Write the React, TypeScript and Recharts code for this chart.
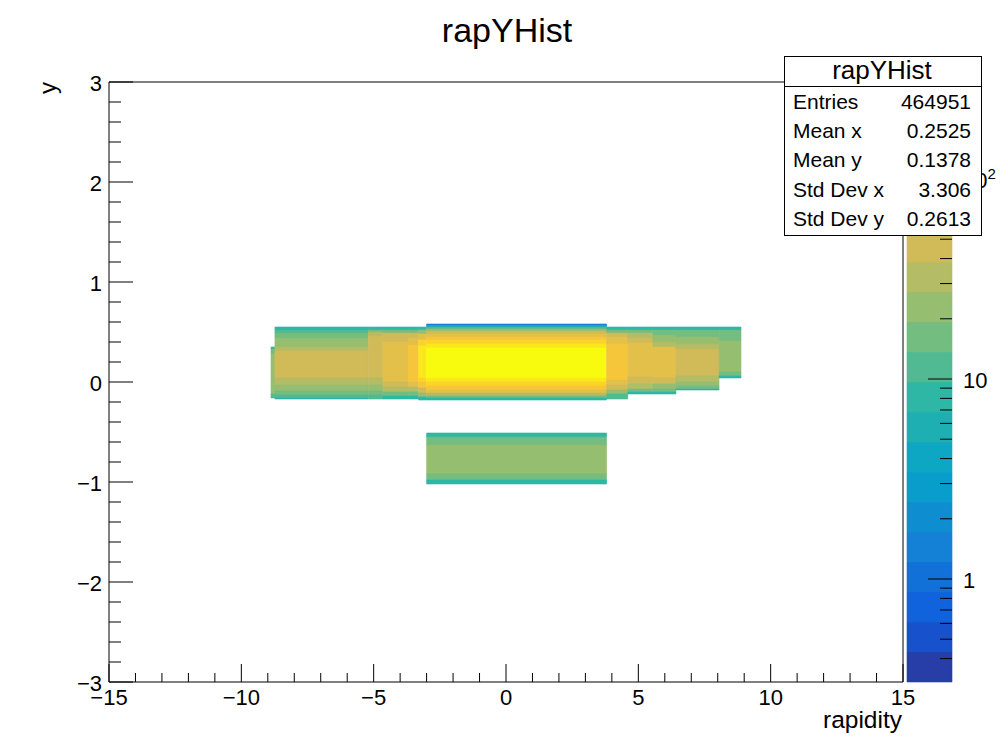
import { ComposedChart, ReferenceArea, Scatter, XAxis, YAxis } from "recharts";

// [yLow, yHigh, entries] rows inside one rapidity slice
type Band = [number, number, number];

interface Slice {
  x0: number;
  x1: number;
  bands: Band[];
}

const xTicks = [
  -15, -14, -13, -12, -11, -10, -9, -8, -7, -6, -5, -4, -3, -2, -1, 0, 1, 2, 3,
  4, 5, 6, 7, 8, 9, 10, 11, 12, 13, 14, 15,
];
const yTicks = [
  -3, -2.8, -2.6, -2.4, -2.2, -2, -1.8, -1.6, -1.4, -1.2, -1, -0.8, -0.6, -0.4,
  -0.2, 0, 0.2, 0.4, 0.6, 0.8, 1, 1.2, 1.4, 1.6, 1.8, 2, 2.2, 2.4, 2.6, 2.8, 3,
];
const zTicks = [
  0.4, 0.5, 0.6, 0.7, 0.8, 0.9, 1, 2, 3, 4, 5, 6, 7, 8, 9, 10, 20, 30, 40, 50,
  60, 70, 80, 90, 100, 200, 300,
];

const leftStrip: Band[] = [
  [0.33, 0.35, 8],
  [0.28, 0.33, 16],
  [-0.12, 0.28, 23],
  [-0.16, -0.12, 11],
];
const leftWide: Band[] = [
  [0.52, 0.55, 8],
  [0.49, 0.52, 11],
  [0.44, 0.49, 16],
  [0.35, 0.44, 23],
  [0.31, 0.35, 32],
  [0.04, 0.31, 46],
  [-0.03, 0.04, 32],
  [-0.09, -0.03, 23],
  [-0.13, -0.09, 16],
  [-0.16, -0.13, 11],
  [-0.17, -0.16, 8],
];
const leftMid: Band[] = [
  [0.52, 0.55, 8],
  [0.5, 0.52, 16],
  [0.46, 0.5, 32],
  [0.04, 0.46, 50],
  [-0.03, 0.04, 32],
  [-0.09, -0.03, 23],
  [-0.13, -0.09, 16],
  [-0.17, -0.13, 10],
];
const leftInner: Band[] = [
  [0.52, 0.55, 8],
  [0.49, 0.52, 16],
  [0.4, 0.49, 46],
  [0.0, 0.4, 65],
  [-0.05, 0.0, 46],
  [-0.1, -0.05, 32],
  [-0.14, -0.1, 16],
  [-0.17, -0.14, 9],
];
const leftEdge: Band[] = [
  [0.52, 0.55, 8],
  [0.49, 0.52, 16],
  [0.44, 0.49, 46],
  [0.37, 0.44, 65],
  [0.0, 0.37, 91],
  [-0.05, 0.0, 65],
  [-0.1, -0.05, 32],
  [-0.14, -0.1, 16],
  [-0.17, -0.14, 9],
];
const leftRim: Band[] = [
  [0.52, 0.55, 8],
  [0.48, 0.52, 23],
  [0.42, 0.48, 65],
  [0.36, 0.42, 130],
  [0.04, 0.36, 200],
  [0.0, 0.04, 130],
  [-0.06, 0.0, 91],
  [-0.11, -0.06, 46],
  [-0.15, -0.11, 20],
  [-0.18, -0.15, 9],
];
const central: Band[] = [
  [0.565, 0.58, 1.4],
  [0.55, 0.565, 4],
  [0.53, 0.55, 11],
  [0.51, 0.53, 23],
  [0.48, 0.51, 46],
  [0.45, 0.48, 65],
  [0.42, 0.45, 91],
  [0.38, 0.42, 130],
  [0.34, 0.38, 180],
  [0.04, 0.34, 260],
  [0.0, 0.04, 180],
  [-0.04, 0.0, 130],
  [-0.08, -0.04, 91],
  [-0.11, -0.08, 65],
  [-0.14, -0.11, 32],
  [-0.16, -0.14, 16],
  [-0.18, -0.16, 8],
];
const lower: Band[] = [
  [-0.55, -0.51, 8],
  [-0.63, -0.55, 16],
  [-0.92, -0.63, 23],
  [-0.98, -0.92, 16],
  [-1.02, -0.98, 9],
];
const rightEdge: Band[] = [
  [0.52, 0.55, 8],
  [0.49, 0.52, 16],
  [0.45, 0.49, 46],
  [0.38, 0.45, 65],
  [0.02, 0.38, 100],
  [-0.03, 0.02, 65],
  [-0.08, -0.03, 46],
  [-0.12, -0.08, 23],
  [-0.17, -0.12, 11],
];
const rightInner: Band[] = [
  [0.52, 0.55, 8],
  [0.49, 0.52, 16],
  [0.44, 0.49, 32],
  [0.39, 0.44, 46],
  [0.05, 0.39, 65],
  [-0.02, 0.05, 46],
  [-0.07, -0.02, 32],
  [-0.1, -0.07, 16],
  [-0.12, -0.1, 9],
];
const rightMid: Band[] = [
  [0.52, 0.55, 8],
  [0.47, 0.52, 16],
  [0.4, 0.47, 23],
  [0.35, 0.4, 32],
  [0.04, 0.35, 55],
  [-0.02, 0.04, 40],
  [-0.07, -0.02, 23],
  [-0.1, -0.07, 14],
  [-0.12, -0.1, 9],
];
const rightWide: Band[] = [
  [0.52, 0.55, 8],
  [0.45, 0.52, 16],
  [0.38, 0.45, 23],
  [0.33, 0.38, 32],
  [0.06, 0.33, 46],
  [0.0, 0.06, 32],
  [-0.04, 0.0, 23],
  [-0.07, -0.04, 14],
  [-0.08, -0.07, 9],
];
const rightStrip: Band[] = [
  [0.52, 0.55, 8],
  [0.41, 0.52, 16],
  [0.1, 0.41, 23],
  [0.06, 0.1, 16],
  [0.04, 0.06, 9],
];

const slices: Slice[] = [
  { x0: -8.88, x1: -8.73, bands: leftStrip },
  { x0: -8.73, x1: -5.2, bands: leftWide },
  { x0: -5.2, x1: -4.65, bands: leftMid },
  { x0: -4.65, x1: -3.7, bands: leftInner },
  { x0: -3.7, x1: -3.3, bands: leftEdge },
  { x0: -3.3, x1: -3.0, bands: leftRim },
  { x0: -3.0, x1: 3.8, bands: central },
  { x0: -3.0, x1: 3.8, bands: lower },
  { x0: 3.8, x1: 4.6, bands: rightEdge },
  { x0: 4.6, x1: 5.55, bands: rightInner },
  { x0: 5.55, x1: 6.42, bands: rightMid },
  { x0: 6.42, x1: 8.05, bands: rightWide },
  { x0: 8.05, x1: 8.88, bands: rightStrip },
];

const statRows = [
  ["Entries", "464951"],
  ["Mean x", "0.2525"],
  ["Mean y", "0.1378"],
  ["Std Dev x", "3.306"],
  ["Std Dev y", "0.2613"],
];

// kBird palette, 20 contour levels
const birdColors = [
  "#273da8", "#1751cb", "#1063dc", "#1271d9", "#1480d6",
  "#0e8ed1", "#099dcc", "#0da7c3", "#1eafb3", "#2eb7a4",
  "#52ba92", "#74bd81", "#96be71", "#b4bc65", "#d1bb59",
  "#e2c04a", "#f5c63a", "#fdd32a", "#fbe81c", "#f9fb0e",
];
const LOG_MIN = -0.515;
const LOG_MAX = 2.485;
const NLEV = 20;
const STEP = (LOG_MAX - LOG_MIN) / NLEV;
const zMin = Math.pow(10, LOG_MIN);
const zMax = Math.pow(10, LOG_MAX);

function colorFor(z: number) {
  let k = Math.floor((Math.log10(z) - LOG_MIN) / STEP);
  if (k < 0) k = 0;
  if (k > NLEV - 1) k = NLEV - 1;
  return birdColors[k];
}

const FONT = "'Liberation Sans', Arial, Helvetica, sans-serif";
const fmt = (v: number) => (v < 0 ? "\u2212" + Math.abs(v) : String(v));

function XTick(props: any) {
  const { x, y, payload } = props;
  const v = payload.value as number;
  const major = v % 5 === 0;
  return (
    <g>
      <line x1={x} x2={x} y1={y} y2={y - (major ? 18 : 9)} stroke="#000" />
      {major && (
        <text x={x} y={y + 23} textAnchor="middle" fontSize={22} fontFamily={FONT} fill="#000">
          {fmt(v)}
        </text>
      )}
    </g>
  );
}

function YTick(props: any) {
  const { x, y, payload } = props;
  const v = payload.value as number;
  const major = Math.abs(v - Math.round(v)) < 1e-6;
  return (
    <g>
      <line x1={x} x2={x + (major ? 24 : 12)} y1={y} y2={y} stroke="#000" />
      {major && (
        <text x={x - 7} y={y + 9} textAnchor="end" fontSize={22} fontFamily={FONT} fill="#000">
          {fmt(Math.round(v))}
        </text>
      )}
    </g>
  );
}

function ZTick(props: any) {
  const { x, y, payload } = props;
  const v = payload.value as number;
  const major = v === 1 || v === 10 || v === 100;
  return (
    <g>
      <line x1={x - (major ? 24 : 12)} x2={x} y1={y} y2={y} stroke="#000" />
      {major && (
        <text x={x + 11} y={y + 9} textAnchor="start" fontSize={22} fontFamily={FONT} fill="#000">
          {v === 100 ? (
            <>
              10
              <tspan dy={-9} fontSize={15}>
                2
              </tspan>
            </>
          ) : (
            String(v)
          )}
        </text>
      )}
    </g>
  );
}

const anchorPoint = [{ x: 0, y: 0 }];
const zAnchor = [{ x: 0.5, y: 1 }];

export default function App() {
  const levels = birdColors.map((c, k) => ({
    c,
    lo: Math.pow(10, LOG_MIN + k * STEP),
    hi: Math.pow(10, LOG_MIN + (k + 1) * STEP),
  }));

  return (
    <div
      style={{
        position: "absolute",
        left: 0,
        top: 0,
        width: 1000,
        height: 741,
        background: "#fff",
        fontFamily: FONT,
      }}
    >
      <div style={{ position: "absolute", left: 0, top: 0 }}>
        <ComposedChart
          width={1000}
          height={741}
          margin={{ top: 82, right: 97, bottom: 0, left: 49 }}
        >
          <XAxis
            type="number"
            dataKey="x"
            domain={[-15, 15]}
            ticks={xTicks}
            interval={0}
            allowDataOverflow
            height={59}
            axisLine={false}
            tickLine={false}
            tickSize={0}
            tickMargin={0}
            tick={(p: any) => <XTick {...p} />}
          />
          <YAxis
            type="number"
            dataKey="y"
            domain={[-3, 3]}
            ticks={yTicks}
            interval={0}
            allowDataOverflow
            width={60}
            axisLine={false}
            tickLine={false}
            tickSize={0}
            tickMargin={0}
            tick={(p: any) => <YTick {...p} />}
          />
          {slices.map((s, i) =>
            s.bands.map((b, j) => (
              <ReferenceArea
                key={`${i}-${j}`}
                x1={s.x0}
                x2={s.x1}
                y1={b[0]}
                y2={b[1]}
                fill={colorFor(b[2])}
                fillOpacity={1}
                stroke={colorFor(b[2])}
                strokeWidth={0.6}
                ifOverflow="visible"
              />
            ))
          )}
          <ReferenceArea
            x1={-15}
            x2={15}
            y1={-3}
            y2={3}
            fill="none"
            stroke="#000"
            strokeWidth={1}
            ifOverflow="visible"
          />
          <Scatter
            data={anchorPoint}
            dataKey="y"
            isAnimationActive={false}
            shape={() => <g />}
          />
        </ComposedChart>
      </div>

      <div style={{ position: "absolute", left: 900, top: 0 }}>
        <ComposedChart
          width={100}
          height={741}
          margin={{ top: 82, right: 0, bottom: 59, left: 7 }}
        >
          <XAxis type="number" dataKey="x" domain={[0, 1]} hide />
          <YAxis
            type="number"
            dataKey="y"
            scale="log"
            orientation="right"
            domain={[zMin, zMax]}
            ticks={zTicks}
            interval={0}
            allowDataOverflow
            width={48}
            axisLine={false}
            tickLine={false}
            tickSize={0}
            tickMargin={0}
            tick={(p: any) => <ZTick {...p} />}
          />
          {levels.map((l, k) => (
            <ReferenceArea
              key={k}
              x1={0}
              x2={1}
              y1={l.lo}
              y2={l.hi}
              fill={l.c}
              fillOpacity={1}
              stroke={l.c}
              strokeWidth={0.6}
              ifOverflow="visible"
            />
          ))}
          <Scatter
            data={zAnchor}
            dataKey="y"
            isAnimationActive={false}
            shape={() => <g />}
          />
        </ComposedChart>
      </div>

      <svg
        width={1000}
        height={741}
        style={{ position: "absolute", left: 0, top: 0, pointerEvents: "none" }}
        fontFamily={FONT}
      >
        <text x={507} y={42} textAnchor="middle" fontSize={34} fill="#000">
          rapYHist
        </text>
        <text x={902} y={728} textAnchor="end" fontSize={24.5} fill="#000">
          rapidity
        </text>
        <text
          x={56}
          y={82}
          textAnchor="end"
          fontSize={24}
          fill="#000"
          transform="rotate(-90, 56, 82)"
        >
          y
        </text>
        <rect x={784.5} y={56.5} width={197} height={179} fill="#fff" stroke="#000" />
        <line x1={784.5} x2={981.5} y1={86.5} y2={86.5} stroke="#000" />
        <text x={882} y={79} textAnchor="middle" fontSize={26} fill="#000">
          rapYHist
        </text>
        {statRows.map((r, i) => (
          <g key={r[0]}>
            <text x={793} y={109 + i * 29.2} fontSize={21} fill="#000">
              {r[0]}
            </text>
            <text x={971} y={109 + i * 29.2} textAnchor="end" fontSize={21} fill="#000">
              {r[1]}
            </text>
          </g>
        ))}
      </svg>
    </div>
  );
}
